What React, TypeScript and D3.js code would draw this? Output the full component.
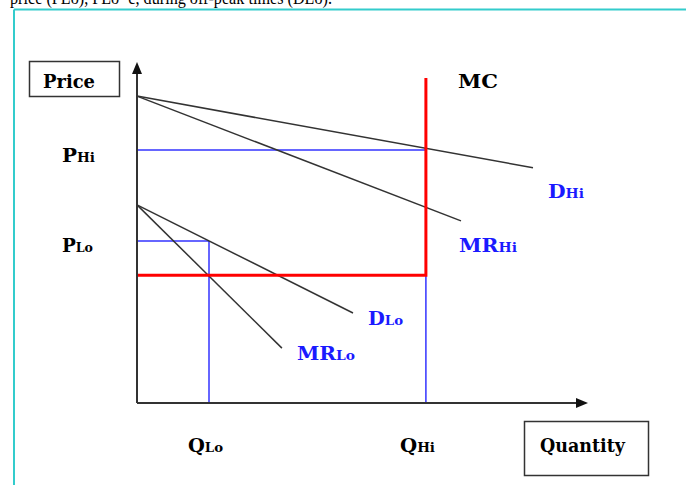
import React from "react";
import * as d3 from "d3";

// Curves (demand / marginal revenue), in quantity/price units (0-100)
const curveNames = ["DHi", "MRHi", "DLo", "MRLo"];
const curveStartPrice = [90, 90, 58.1, 58.1];
const curveEndQty = [88, 72, 48, 32.2];
const curveEndPrice = [69, 53.4, 26.4, 16.1];

// Marginal cost (capacity constraint)
const mcPrice = 37.5;
const mcCapacityQty = 64.2;
const mcTopPrice = 95.3;

// Equilibria
const priceLevelNames = ["PHi", "PLo"];
const priceLevels = [74.2, 47.5];
const qtyLevelNames = ["QHi", "QLo"];
const qtyLevels = [64.2, 16];

const W = 686;
const H = 485;
const serif = "'DejaVu Serif', serif";
const textSerif = "'Liberation Serif', serif";

function Label({ x, y, main, sub, width, color, size = 19, subSize = 13 }: any) {
  return (
    <text
      x={x}
      y={y}
      fill={color}
      style={{ fontFamily: serif, fontWeight: 700 }}
      textLength={width}
      lengthAdjust="spacingAndGlyphs"
    >
      <tspan fontSize={size}>{main}</tspan>
      {sub ? <tspan fontSize={subSize}>{sub}</tspan> : null}
    </text>
  );
}

export default function App() {
  const x = d3.scaleLinear().domain([0, 100]).range([137, 587]);
  const y = d3.scaleLinear().domain([0, 100]).range([403, 62]);
  const line = d3.line<[number, number]>().x((d) => x(d[0])).y((d) => y(d[1]));

  const dark = "#333";
  const blue = "#3333ff";
  const labelBlue = "#1a1aff";
  const red = "#ff0000";

  const mcPath: [number, number][] = [
    [0, mcPrice],
    [mcCapacityQty, mcPrice],
    [mcCapacityQty, mcTopPrice],
  ];

  return (
    <svg
      width={W}
      height={H}
      style={{ position: "absolute", left: 0, top: 0, background: "#fff" }}
    >
      <rect x={0} y={0} width={W} height={H} fill="#fff" />
      {/* cut-off text line at top */}
      <text
        x={10}
        y={4}
        style={{ fontFamily: textSerif }}
        fontSize={19}
        fill="#000"
        textLength={322}
        lengthAdjust="spacingAndGlyphs"
      >
        price (PLo), PLo=c, during off-peak times (DLo).
      </text>
      {/* cyan frame */}
      <line x1={14} y1={9.5} x2={W} y2={9.5} stroke="#33cccc" strokeWidth={2} />
      <line x1={14} y1={9.5} x2={14} y2={H} stroke="#33cccc" strokeWidth={2} />

      {/* blue guide lines */}
      <line x1={x(0)} x2={x(qtyLevels[0])} y1={y(priceLevels[0])} y2={y(priceLevels[0])} stroke={blue} strokeWidth={1.5} />
      <line x1={x(0)} x2={x(qtyLevels[1])} y1={y(priceLevels[1])} y2={y(priceLevels[1])} stroke={blue} strokeWidth={1.5} />
      <line x1={x(qtyLevels[0])} x2={x(qtyLevels[0])} y1={y(mcPrice)} y2={y(0)} stroke={blue} strokeWidth={1.5} />
      <line x1={x(qtyLevels[1])} x2={x(qtyLevels[1])} y1={y(priceLevels[1])} y2={y(0)} stroke={blue} strokeWidth={1.5} />

      {/* curves */}
      {curveNames.map((n, i) => (
        <path
          key={n}
          d={line([
            [0, curveStartPrice[i]],
            [curveEndQty[i], curveEndPrice[i]],
          ]) as string}
          stroke={dark}
          strokeWidth={1.5}
          fill="none"
        />
      ))}

      {/* MC */}
      <path d={line(mcPath) as string} stroke={red} strokeWidth={3} fill="none" />

      {/* axes */}
      <line x1={x(0)} x2={x(0)} y1={y(0)} y2={y(100) + 10} stroke={dark} strokeWidth={2} />
      <line x1={x(0)} x2={x(100) - 10} y1={y(0)} y2={y(0)} stroke={dark} strokeWidth={2} />
      <path d={`M${x(0)},${y(100)} L${x(0) - 5},${y(100) + 12} L${x(0) + 5},${y(100) + 12} Z`} fill="#111" />
      <path d={`M${x(100) + 1},${y(0)} L${x(100) - 11},${y(0) - 5} L${x(100) - 11},${y(0) + 5} Z`} fill="#111" />

      {/* boxes */}
      <rect x={29.5} y={61.5} width={90} height={35} fill="none" stroke={dark} strokeWidth={1.5} />
      <rect x={524.5} y={421.5} width={124} height={54} fill="none" stroke={dark} strokeWidth={1.5} />

      <Label x={43} y={88} main="Price" width={52} color="#000" />
      <Label x={540} y={452} main="Quantity" width={85} color="#000" />

      <Label x={62} y={162} main={priceLevelNames[0][0]} sub={priceLevelNames[0].slice(1)} width={33} color="#000" />
      <Label x={62} y={252} main={priceLevelNames[1][0]} sub={priceLevelNames[1].slice(1)} width={31} color="#000" />
      <Label x={458} y={88} main="MC" width={40} color="#000" size={18} />

      <Label x={548} y={198} main="D" sub="Hi" width={36} color={labelBlue} />
      <Label x={459} y={252} main="MR" sub="Hi" width={58} color={labelBlue} />
      <Label x={368} y={325} main="D" sub="Lo" width={35} color={labelBlue} />
      <Label x={297} y={360} main="MR" sub="Lo" width={58} color={labelBlue} />

      <Label x={188} y={452} main={qtyLevelNames[1][0]} sub={qtyLevelNames[1].slice(1)} width={35} color="#000" />
      <Label x={400} y={452} main={qtyLevelNames[0][0]} sub={qtyLevelNames[0].slice(1)} width={35} color="#000" />
    </svg>
  );
}
